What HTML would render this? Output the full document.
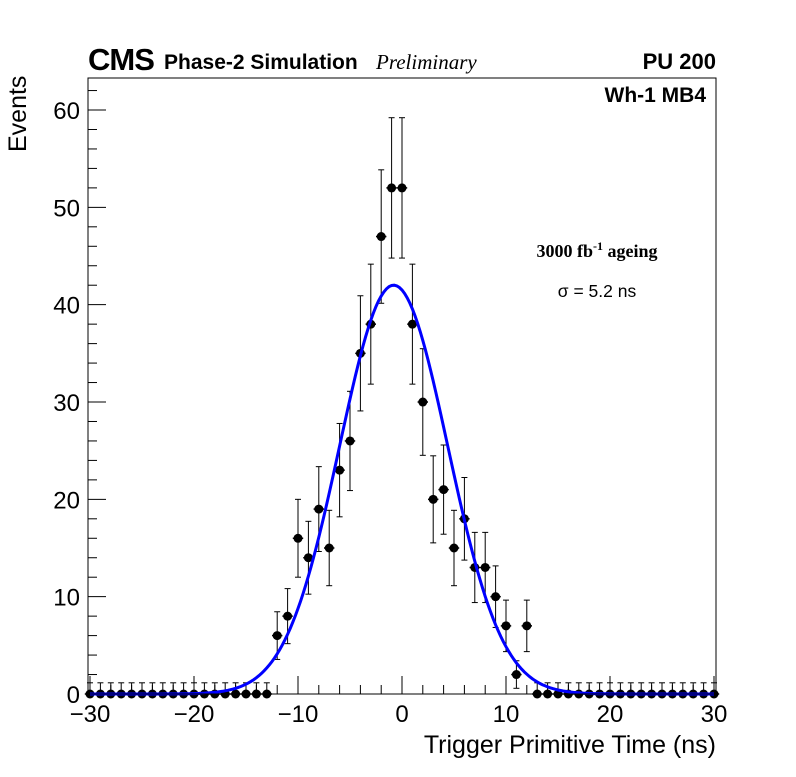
<!DOCTYPE html>
<html><head><meta charset="utf-8"><style>
html,body{margin:0;padding:0;background:#fff;}
svg text{font-family:"Liberation Sans",sans-serif;}
</style></head><body>
<svg id="c" width="796" height="772" viewBox="0 0 796 772" xmlns="http://www.w3.org/2000/svg">
<rect width="796" height="772" fill="#fff"/>
<text x="88" y="70" font-size="31" font-weight="bold" letter-spacing="-1">CMS</text>
<text x="164" y="69" font-size="21" font-weight="bold">Phase-2 Simulation</text>
<text x="376" y="69" font-size="21" font-style="italic" style="font-family:'Liberation Serif',serif">Preliminary</text>
<text x="716" y="69" font-size="22" font-weight="bold" text-anchor="end">PU 200</text>
<text x="706" y="102" font-size="21" font-weight="bold" text-anchor="end">Wh-1 MB4</text>
<text x="597" y="257" font-size="18" font-weight="bold" text-anchor="middle" style="font-family:'Liberation Serif',serif">3000 fb<tspan font-size="12" dy="-7">-1</tspan><tspan dy="7"> ageing</tspan></text>
<text x="597" y="297" font-size="17.5" text-anchor="middle">σ = 5.2 ns</text>
<text transform="translate(26,152) rotate(-90)" font-size="25">Events</text>
<text x="716" y="753" font-size="25" text-anchor="end">Trigger Primitive Time (ns)</text>
<g id="axes"></g>
<g id="marks"></g>
<rect x="88" y="78" width="628" height="616" fill="none" stroke="#000" stroke-width="1"/>
</svg>
<script>
const binCenters=[-30,-29,-28,-27,-26,-25,-24,-23,-22,-21,-20,-19,-18,-17,-16,-15,-14,-13,-12,-11,-10,-9,-8,-7,-6,-5,-4,-3,-2,-1,0,1,2,3,4,5,6,7,8,9,10,11,12,13,14,15,16,17,18,19,20,21,22,23,24,25,26,27,28,29,30];
const counts=[0,0,0,0,0,0,0,0,0,0,0,0,0,0,0,0,0,0,6,8,16,14,19,15,23,26,35,38,47,52,52,38,30,20,21,15,18,13,13,10,7,2,7,0,0,0,0,0,0,0,0,0,0,0,0,0,0,0,0,0,0];
const xTicks=[-30,-20,-10,0,10,20,30];
const yTicks=[0,10,20,30,40,50,60];
const fitAmp=42, fitMean=-0.8, fitSigma=5.2;
const NS='http://www.w3.org/2000/svg';
const X=v=>90+(v+30)*10.4;
const Y=v=>694-v*9.733;
function mk(t,a,p){const e=document.createElementNS(NS,t);for(const k in a)e.setAttribute(k,a[k]);p.appendChild(e);return e;}
const ax=document.getElementById('axes'), mg=document.getElementById('marks');
for(let v=-30;v<=30;v+=2){const l=mk('line',{x1:X(v),x2:X(v),y1:694,y2:694-(v%10===0?18:9),stroke:'#000'},ax);

}
xTicks.forEach(v=>{const t=mk('text',{x:X(v),y:722,'font-size':24,'text-anchor':'middle'},ax);t.textContent=(v<0?'\u2212'+(-v):v);

});
for(let v=0;v<=62;v+=2){const l=mk('line',{x1:88,x2:88+(v%10===0?18:9),y1:Y(v),y2:Y(v),stroke:'#000'},ax);

}
yTicks.forEach(v=>{const t=mk('text',{x:80,y:Y(v)+9,'font-size':24,'text-anchor':'end'},ax);t.textContent=v;

});
binCenters.forEach((c,i)=>{const n=counts[i];const g=mk('g',{},mg);


const up=n>0?Math.sqrt(n):1.15, dn=n>0?Math.sqrt(n):0;
mk('line',{x1:X(c),x2:X(c),y1:Y(n+up),y2:Y(n-dn),stroke:'#000','stroke-width':1},g);
mk('line',{x1:X(c)-3,x2:X(c)+3,y1:Y(n+up),y2:Y(n+up),stroke:'#000'},g);
if(n>0)mk('line',{x1:X(c)-3,x2:X(c)+3,y1:Y(n-dn),y2:Y(n-dn),stroke:'#000'},g);
mk('line',{x1:X(c-0.5),x2:X(c+0.5),y1:Y(n),y2:Y(n),stroke:'#000','stroke-width':1.5},g);
mk('circle',{cx:X(c),cy:Y(n),r:4.5,fill:'#000'},g);});
let d='';for(let v=-30;v<=30;v+=0.25){const f=fitAmp*Math.exp(-0.5*((v-fitMean)/fitSigma)**2);d+=(d?'L':'M')+X(v).toFixed(1)+' '+Y(f).toFixed(1);}
const p=mk('path',{d:d,fill:'none',stroke:'#0000ff','stroke-width':3},mg);


</script>
</body></html>
